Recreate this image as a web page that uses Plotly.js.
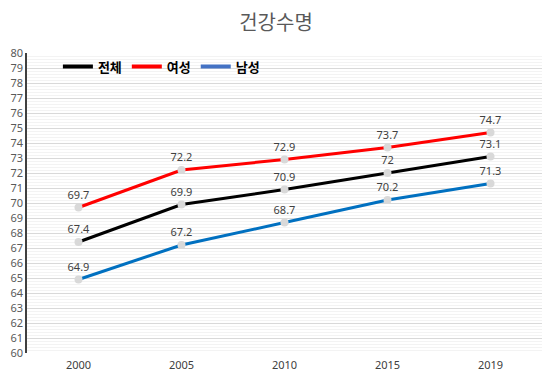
<!DOCTYPE html>
<html><head><meta charset="utf-8">
<script src="https://cdn.plot.ly/plotly-3.0.1.min.js"></script>
<style>html,body{margin:0;padding:0;background:#fff}#c{width:552px;height:380px}</style>
</head><body><div id="c"></div>
<script>
const years = ['2000','2005','2010','2015','2019'];
const total = [67.4, 69.9, 70.9, 72, 73.1];
const female = [69.7, 72.2, 72.9, 73.7, 74.7];
const male = [64.9, 67.2, 68.7, 70.2, 71.3];
const names = ['전체','여성','남성'];
const colors = ['#000000','#ff0000','#0070c0'];
const legendColors = ['#000000','#ff0000','#4472c4'];
const font = 'Noto Sans, Noto Sans CJK KR, sans-serif';
const series = [total, female, male];
const traces = series.map((v,i)=>({
  x: years, y: v, name: names[i], type:'scatter', mode:'lines+markers+text',
  text: v.map(String), textposition:'top center',
  textfont:{size:11, color:'#404040', family:font},
  line:{color:colors[i], width:3},
  marker:{color:'#d9d9d9', size:8},
  cliponaxis:false, showlegend:false
}));
names.forEach((n,i)=>traces.push({
  x:[years[0]], y:[null], name:n, type:'scatter', mode:'lines',
  line:{color:legendColors[i], width:4}, showlegend:true, hoverinfo:'skip'
}));
const layout = {
  width:552, height:380,
  margin:{l:27, r:10, t:53, b:27},
  paper_bgcolor:'#fff', plot_bgcolor:'#fff',
  font:{family:font, color:'#595959'},
  title:{text:'건강수명', x:0.5, xanchor:'center', y:0.94, yanchor:'middle', font:{size:20, color:'#595959', family:font}},
  showlegend:true,
  legend:{orientation:'h', x:0.06, y:0.955, xanchor:'left', yanchor:'middle', bgcolor:'rgba(0,0,0,0)',
    font:{size:13, color:'#000', family:font, weight:'bold'}, itemwidth:30, tracegroupgap:0},
  xaxis:{type:'category', range:[-0.5,4.5], showgrid:false, zeroline:false, showline:false,
    ticks:'', tickfont:{size:11, color:'#404040'}, ticklabelstandoff:4},
  yaxis:{range:[60,80], dtick:1, tick0:60, showgrid:true, gridcolor:'#d9d9d9', gridwidth:1,
    zeroline:false, showline:true, linecolor:'#404040', linewidth:1.5, ticks:'',
    tickfont:{size:11, color:'#595959'},
    minor:{dtick:0.2, showgrid:true, gridcolor:'#f3f3f3', gridwidth:1}}
};
Plotly.newPlot('c', traces, layout, {displayModeBar:false});
</script></body></html>
